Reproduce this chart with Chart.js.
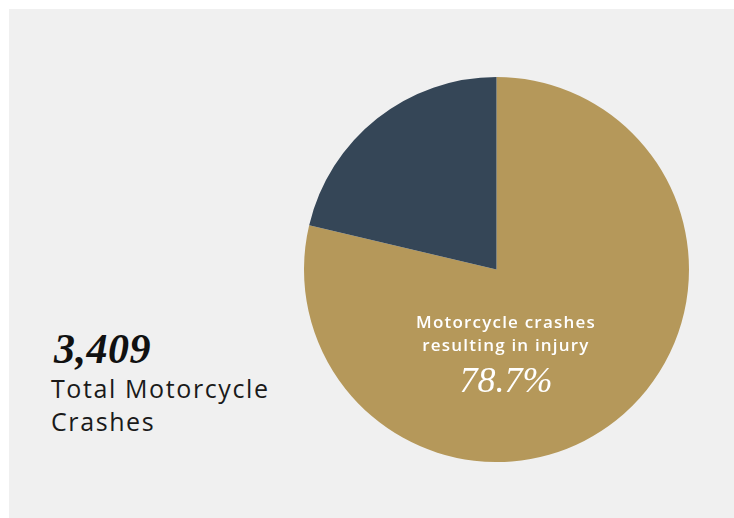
<!DOCTYPE html>
<html>
<head>
<meta charset="utf-8">
<script src="https://cdn.jsdelivr.net/npm/chart.js@4/dist/chart.umd.min.js"></script>
<style>
  html, body { margin: 0; padding: 0; background: #ffffff; }
  #panel { position: absolute; left: 9px; top: 9px; width: 725px; height: 509px; background: #f0f0f0; }
  #pieBox { position: absolute; left: 304px; top: 77px; width: 385px; height: 385px; }
  #total { position: absolute; left: 51px; top: 326px; color: #111; }
  #total .num { font-family: "Liberation Serif", serif; font-style: italic; font-weight: bold; font-size: 42px; line-height: 46px; padding-left: 3px; letter-spacing: 0.5px; }
  #total .cap { font-family: "Open Sans", sans-serif; font-size: 25px; line-height: 33px; color: #1a1a1a; letter-spacing: 1.6px; }
  #inner { position: absolute; left: 396px; top: 310px; width: 220px; text-align: center; color: #fff; }
  #inner .lbl { font-family: "Open Sans", sans-serif; font-weight: 600; font-size: 17px; line-height: 23px; letter-spacing: 1.2px; }
  #inner .pct { font-family: "Liberation Serif", serif; font-style: italic; font-size: 36px; line-height: 48px; }
</style>
</head>
<body>
<div id="panel"></div>
<div id="pieBox"><canvas id="chart"></canvas></div>
<div id="total"><div class="num" id="totalNum"></div><div class="cap">Total Motorcycle<br>Crashes</div></div>
<div id="inner"><div class="lbl">Motorcycle crashes<br>resulting in injury</div><div class="pct" id="pct"></div></div>
<script>
const categories = ["Motorcycle crashes resulting in injury", "Other motorcycle crashes"];
const shares = [78.7, 21.3];
const colors = ["#b5985a", "#354657"];
const totalCrashes = 3409;

document.getElementById("totalNum").textContent = totalCrashes.toLocaleString("en-US");
document.getElementById("pct").textContent = shares[0].toFixed(1) + "%";

new Chart("chart", {
  type: "pie",
  data: {
    labels: categories,
    datasets: [{
      data: shares,
      backgroundColor: colors,
      borderWidth: 0
    }]
  },
  options: {
    responsive: true,
    maintainAspectRatio: false,
    animation: false,
    layout: { padding: 0 },
    plugins: {
      legend: { display: false },
      tooltip: { enabled: false }
    }
  }
});
</script>
</body>
</html>
